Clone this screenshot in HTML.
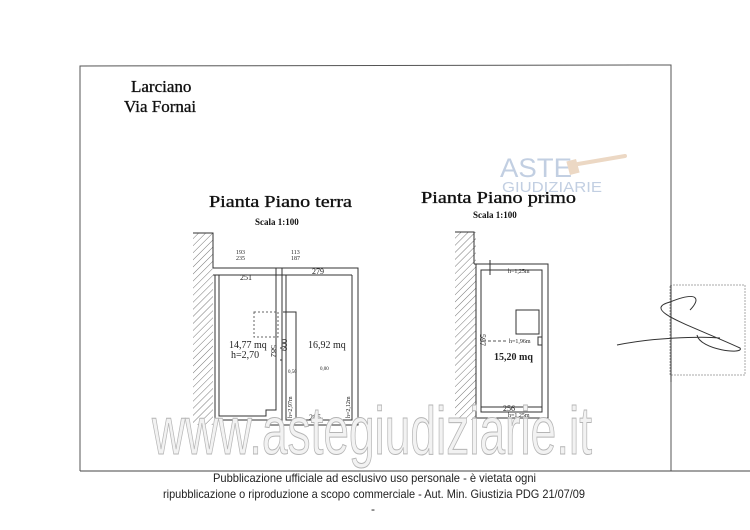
<!DOCTYPE html>
<html><head><meta charset="utf-8"><style>
html,body{margin:0;padding:0;background:#fff;}
svg{display:block}
</style></head><body>
<svg width="750" height="530" viewBox="0 0 750 530" xmlns="http://www.w3.org/2000/svg">
<defs>
<pattern id="h" width="5" height="5" patternUnits="userSpaceOnUse" patternTransform="rotate(45)">
<line x1="0" y1="0" x2="0" y2="5" stroke="#777" stroke-width="1"/>
</pattern>
</defs>
<rect width="750" height="530" fill="#fff"/>
<path d="M80 471 L80 66 L671 65 L671 471" fill="none" stroke="#555" stroke-width="1"/>
<line x1="80" y1="471" x2="750" y2="471" stroke="#444" stroke-width="1"/>

<g font-family="Liberation Serif, serif" fill="#111" stroke="#111" stroke-width="0.35">
<text x="131" y="92" font-size="17">Larciano</text>
<text x="124" y="112" font-size="17">Via Fornai</text>
<text x="209" y="207" font-size="17" textLength="143" lengthAdjust="spacingAndGlyphs">Pianta Piano terra</text>
<text x="421" y="203" font-size="17" textLength="155" lengthAdjust="spacingAndGlyphs">Pianta Piano primo</text>
</g>
<g font-family="Liberation Serif, serif" fill="#111">
<text x="255" y="225" font-size="9" font-weight="bold">Scala 1:100</text>
<text x="473" y="218" font-size="9" font-weight="bold">Scala 1:100</text>
</g>

<g font-family="Liberation Sans, sans-serif" fill="#c2cfe2">
<text x="500" y="177" font-size="27" textLength="72" lengthAdjust="spacingAndGlyphs">ASTE</text>
<text x="502" y="192" font-size="15" textLength="100" lengthAdjust="spacingAndGlyphs">GIUDIZIARIE</text>
<rect x="568" y="160" width="10" height="14" fill="#ecd8c4" transform="rotate(-15 573 167)"/>
<line x1="578" y1="164" x2="625" y2="156" stroke="#ecd8c4" stroke-width="4" stroke-linecap="round"/>
</g>

<rect x="193" y="233" width="20" height="192" fill="url(#h)"/>
<path d="M193 233 L213 233 L213 268" fill="none" stroke="#333" stroke-width="1"/>
<g fill="none" stroke="#333" stroke-width="1">
<path d="M213 268 L358 268 L358 425 L280 425"/>
<path d="M213 275 L352 275"/>
<path d="M215 275 L215 420 L270 420 L270 425 L280 425"/>
<path d="M219 275 L219 416 L266 416 L266 410 L276 410 L276 275"/>
<path d="M276 268 L276 275 M282 268 L282 425 M286 275 L286 420 L352 420 L352 275"/>
<path d="M280 360 L282 360 L282 348 L280 348"/>
<path d="M283 312 L296 312 L296 420"/>
</g>
<rect x="254" y="312" width="24" height="25" fill="none" stroke="#666" stroke-dasharray="2,2"/>
<g font-family="Liberation Serif, serif" fill="#222">
<text x="236" y="254" font-size="6">193</text>
<text x="236" y="260" font-size="6">235</text>
<text x="291" y="254" font-size="6">113</text>
<text x="291" y="260" font-size="6">187</text>
<text x="240" y="280" font-size="8">251</text>
<text x="312" y="274" font-size="8">279</text>
<text x="309" y="420" font-size="8">285</text>
<text x="229" y="348" font-size="10">14,77 mq</text>
<text x="231" y="358" font-size="10">h=2,70</text>
<text x="308" y="348" font-size="10">16,92 mq</text>
<text x="288" y="373" font-size="5">0,50</text>
<text x="320" y="370" font-size="5">0,00</text>
<text transform="translate(271 345) rotate(90)" font-size="8">582</text>
<text transform="translate(287 351) rotate(-90)" font-size="8">600</text>
<text transform="translate(292 418) rotate(-90)" font-size="6">h=2,97m</text>
<text transform="translate(350 418) rotate(-90)" font-size="6">h=2,12m</text>
</g>

<rect x="455" y="232" width="21" height="188" fill="url(#h)"/>
<path d="M455 232 L474 232 L474 264" fill="none" stroke="#333"/>
<g fill="none" stroke="#333" stroke-width="1">
<path d="M474 264 L548 264 L548 418 L476 418 L476 264"/>
<path d="M481 270 L542 270 L542 412 L481 412 Z"/>
<path d="M481 407 L542 407"/>
<path d="M490 260 L490 275"/>
<rect x="516" y="310" width="23" height="24"/>
<path d="M542 337 L538 337 L538 345 L542 345"/>
</g>
<line x1="483" y1="341" x2="507" y2="341" stroke="#555" stroke-dasharray="3,2"/>
<g font-family="Liberation Serif, serif" fill="#222">
<text x="508" y="273" font-size="6">h=1,25m</text>
<text x="509" y="343" font-size="6">h=1,96m</text>
<text x="494" y="360" font-size="10" font-weight="bold">15,20 mq</text>
<text x="503" y="411" font-size="8">256</text>
<text x="508" y="417" font-size="6">h=1,25m</text>
<text transform="translate(480 334) rotate(90)" font-size="8">597</text>
</g>

<text x="152" y="454" font-family="Liberation Sans, sans-serif" font-size="68" fill="#f2f2f2" stroke="#b5b5b5" stroke-width="1" textLength="440" lengthAdjust="spacingAndGlyphs">www.astegiudiziarie.it</text>

<rect x="670" y="285" width="75" height="90" fill="none" stroke="#aaa" stroke-width="1" stroke-dasharray="2,1"/>
<line x1="671" y1="285" x2="671" y2="382" stroke="#333"/>
<path d="M617 345 C650 338,700 336,720 338 M690 310 C700 300,700 290,670 302 C640 310,690 325,740 348 C745 355,700 350,697 335" fill="none" stroke="#333"/>

<g font-family="Liberation Sans, sans-serif" font-size="12" fill="#222">
<text x="213" y="482" textLength="323" lengthAdjust="spacingAndGlyphs">Pubblicazione ufficiale ad esclusivo uso personale - è vietata ogni</text>
<text x="163" y="498" textLength="422" lengthAdjust="spacingAndGlyphs">ripubblicazione o riproduzione a scopo commerciale - Aut. Min. Giustizia PDG 21/07/09</text>
<text x="371" y="513">-</text>
</g>
</svg>
</body></html>
